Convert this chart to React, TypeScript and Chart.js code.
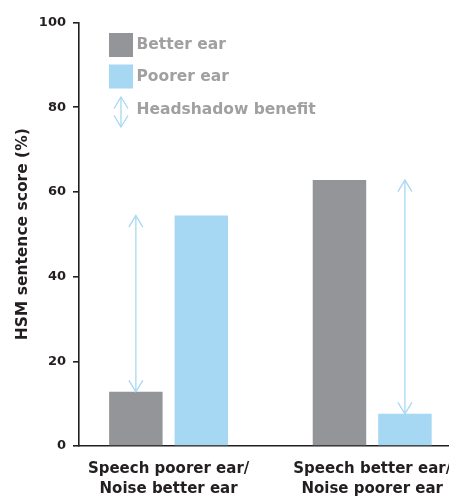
import React, { useEffect, useRef } from "react";
import { Chart, registerables } from "chart.js";

Chart.register(...registerables);

// Category labels (two lines each)
const categories: string[][] = [
  ["Speech poorer ear/", "Noise better ear"],
  ["Speech better ear/", "Noise poorer ear"],
];
// HSM sentence scores (%)
const betterEar: number[] = [12.8, 62.8];
const poorerEar: number[] = [54.4, 7.6];
const yTicks: number[] = [0, 20, 40, 60, 80, 100];
const legendLabels: string[] = ["Better ear", "Poorer ear", "Headshadow benefit"];

const GRAY = "#939598";
const BLUE = "#a7d8f3";
const DARK = "#231f20";
const LEGEND_TEXT = "#a0a0a0";
const FONT = "'DejaVu Sans', sans-serif";

function drawArrowHead(ctx: CanvasRenderingContext2D, x: number, y: number, dir: number) {
  // dir = -1: pointing up, +1: pointing down
  ctx.beginPath();
  ctx.moveTo(x - 7, y - dir * 11.5);
  ctx.lineTo(x, y);
  ctx.lineTo(x + 7, y - dir * 11.5);
  ctx.stroke();
}

function drawDoubleArrow(ctx: CanvasRenderingContext2D, x: number, yTop: number, yBottom: number) {
  ctx.save();
  ctx.strokeStyle = BLUE;
  ctx.lineWidth = 1.3;
  ctx.beginPath();
  ctx.moveTo(x, yTop);
  ctx.lineTo(x, yBottom);
  ctx.stroke();
  drawArrowHead(ctx, x, yTop, -1);
  drawArrowHead(ctx, x, yBottom, 1);
  ctx.restore();
}

// Headshadow-benefit arrows: drawn over the lower bar of each group, up to the taller bar's value
const benefitArrows = {
  id: "benefitArrows",
  afterDatasetsDraw(chart: any) {
    const { ctx } = chart;
    const y = chart.scales.y;
    const m0 = chart.getDatasetMeta(0);
    const m1 = chart.getDatasetMeta(1);
    categories.forEach((_, i) => {
      const b = betterEar[i];
      const p = poorerEar[i];
      const lowMeta = b < p ? m0 : m1;
      const x = lowMeta.data[i].x;
      const yLow = y.getPixelForValue(Math.min(b, p));
      const yHigh = y.getPixelForValue(Math.max(b, p));
      drawDoubleArrow(ctx, x, yHigh, yLow);
    });
  },
};

// Legend in the upper-left of the plot area
const insetLegend = {
  id: "insetLegend",
  afterDraw(chart: any) {
    const { ctx, chartArea } = chart;
    const x0 = chartArea.left + 30;
    const y0 = chartArea.top + 10.5;
    const box = 24;
    const pitch = 31.5;
    ctx.save();
    ctx.font = `bold 15.5px ${FONT}`;
    ctx.textBaseline = "middle";
    ctx.textAlign = "left";
    legendLabels.forEach((label, i) => {
      const top = y0 + i * pitch;
      if (i < 2) {
        ctx.fillStyle = i === 0 ? GRAY : BLUE;
        ctx.fillRect(x0, top, box, box);
      } else {
        drawDoubleArrow(ctx, x0 + 12, top + 1, top + 31);
      }
      ctx.fillStyle = LEGEND_TEXT;
      ctx.fillText(label, x0 + box + 3.5, top + box / 2 + (i === 2 ? 2 : 0));
    });
    ctx.restore();
  },
};

export default function App() {
  const canvasRef = useRef<HTMLCanvasElement | null>(null);

  useEffect(() => {
    const canvas = canvasRef.current;
    if (!canvas) return;
    const xIdx = categories.map((_, i) => i);
    const chart = new Chart(canvas, {
      type: "bar",
      data: {
        datasets: [
          {
            label: legendLabels[0],
            data: betterEar.map((v, i) => ({ x: xIdx[i], y: v })),
            backgroundColor: GRAY,
            borderWidth: 0,
          },
          {
            label: legendLabels[1],
            data: poorerEar.map((v, i) => ({ x: xIdx[i], y: v })),
            backgroundColor: BLUE,
            borderWidth: 0,
          },
        ],
      },
      options: {
        responsive: false,
        animation: false,
        events: [],
        layout: { padding: { top: 22.5, left: 0, right: 0, bottom: 0 } },
        datasets: {
          bar: { categoryPercentage: 0.643, barPercentage: 0.817 },
        },
        plugins: {
          legend: { display: false },
          tooltip: { enabled: false },
        },
        scales: {
          x: {
            type: "linear",
            offset: false,
            min: -0.44,
            max: 1.5,
            afterBuildTicks: (scale: any) => {
              scale.ticks = xIdx.map((v) => ({ value: v }));
            },
            afterFit: (scale: any) => {
              scale.height = 51;
            },
            grid: { display: false, offset: false },
            border: { display: true, color: DARK, width: 1.6 },
            ticks: {
              padding: 5,
              color: DARK,
              font: { family: FONT, weight: "bold", size: 15, lineHeight: 1.33 },
              maxRotation: 0,
              autoSkip: false,
              callback: (v: any) => categories[v as number] ?? "",
            },
          },
          y: {
            min: 0,
            max: 100,
            afterBuildTicks: (scale: any) => {
              scale.ticks = yTicks.map((v) => ({ value: v }));
            },
            afterFit: (scale: any) => {
              scale.width = 79;
            },
            grid: {
              display: true,
              drawOnChartArea: false,
              drawTicks: true,
              tickLength: 6,
              color: DARK,
              lineWidth: 1.6,
            },
            border: { display: true, color: DARK, width: 1.6 },
            ticks: {
              padding: 7,
              color: DARK,
              font: { family: FONT, weight: "bold", size: 13 },
            },
            title: {
              display: true,
              text: "HSM sentence score (%)",
              color: DARK,
              font: { family: FONT, weight: "bold", size: 15.5 },
              padding: { top: 13.5, bottom: 0 },
            },
          },
        },
      },
      plugins: [benefitArrows, insetLegend],
    });
    return () => chart.destroy();
  }, []);

  return (
    <div
      style={{
        position: "fixed",
        left: 0,
        top: 0,
        width: 449,
        height: 497,
        overflow: "hidden",
        background: "#fff",
      }}
    >
      <canvas ref={canvasRef} width={474} height={497} style={{ display: "block" }} />
    </div>
  );
}
